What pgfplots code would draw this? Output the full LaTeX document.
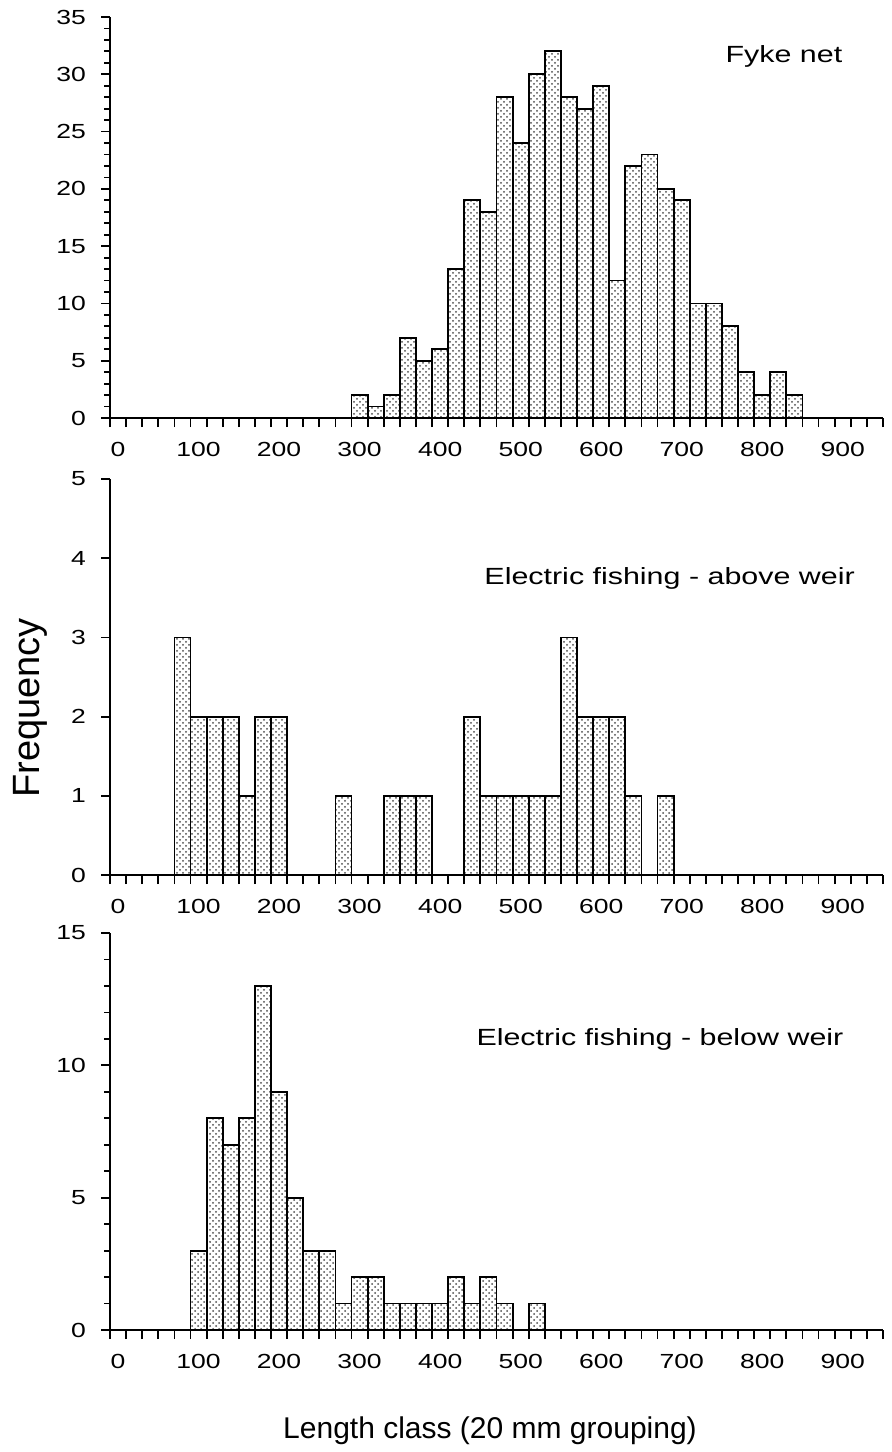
\documentclass[border=0pt]{standalone}
\usepackage{fontspec}
\setmainfont{Liberation Sans}
\newfontfamily\wide[FakeStretch=1.3]{Liberation Sans}
\usepackage{pgfplots}
\usepackage{pgfplotstable}
\pgfplotsset{compat=1.18}
\usetikzlibrary{patterns}

% counts per 20 mm length class (class midpoint, frequency)
\pgfplotstableread{
x y
300 2
320 1
340 2
360 7
380 5
400 6
420 13
440 19
460 18
480 28
500 24
520 30
540 32
560 28
580 27
600 29
620 12
640 22
660 23
680 20
700 19
720 10
740 10
760 8
780 4
800 2
820 4
840 2
}\fyke

\pgfplotstableread{
x y
80 3
100 2
120 2
140 2
160 1
180 2
200 2
280 1
340 1
360 1
380 1
440 2
460 1
480 1
500 1
520 1
540 1
560 3
580 2
600 2
620 2
640 1
680 1
}\above

\pgfplotstableread{
x y
100 3
120 8
140 7
160 8
180 13
200 9
220 5
240 3
260 3
280 1
300 2
320 2
340 1
360 1
380 1
400 1
420 2
440 1
460 2
480 1
520 1
}\below

\pgfplotsset{
  hist/.style={
    scale only axis, width=386.5pt, anchor=north west,
    xmin=-10, xmax=950, ymin=0, enlargelimits=false,
    axis x line=bottom, axis y line=left,
    axis line style={-, line width=1pt},
    tick align=outside,
    xtick={-10,10,...,950}, xticklabels={},
    extra x ticks={0,100,...,900},
    extra x tick style={major tick length=0pt},
    major tick length=4.5pt, minor tick length=3pt,
    tick style={black, line width=0.9pt},
    ticklabel style={font=\wide\fontsize{10.2}{12}\selectfont},
    xticklabel style={yshift=-8.5pt},
    yticklabel style={xshift=-4pt},
    /pgf/number format/assume math mode=true,
    ybar, bar width=20,
  },
  bars/.style={draw=black, line width=0.9pt, pattern=crosshatch dots, pattern color=black!70},
}

\begin{document}
\begin{tikzpicture}
\path (0,0) rectangle (445.5pt,-726pt);

\begin{axis}[hist, at={(55pt,-8.5pt)}, height=200.5pt,
  ymax=35, ytick={0,5,...,35}, minor y tick num=4]
\addplot[bars] table[x=x, y=y] {\fyke};
\node[font=\wide\fontsize{11.7}{13}\selectfont] at (axis cs:827,31.6) {Fyke net};
\end{axis}

\begin{axis}[hist, at={(55pt,-239.5pt)}, height=198pt,
  ymax=5, ytick={0,1,...,5}]
\addplot[bars] table[x=x, y=y] {\above};
\node[font=\wide\fontsize{11.7}{13}\selectfont] at (axis cs:685,3.74) {Electric fishing - above weir};
\end{axis}

\begin{axis}[hist, at={(55pt,-466.5pt)}, height=198.5pt,
  ymax=15, ytick={0,5,10,15}, minor y tick num=4]
\addplot[bars] table[x=x, y=y] {\below};
\node[font=\wide\fontsize{11.7}{13}\selectfont] at (axis cs:673,10.96) {Electric fishing - below weir};
\end{axis}

\node[rotate=90, font=\fontsize{19}{22}\selectfont] at (15pt,-354pt) {Frequency};
\node[anchor=base, font=\fontsize{15}{18}\selectfont] at (245pt,-719pt) {Length class (20 mm grouping)};
\end{tikzpicture}
\end{document}
